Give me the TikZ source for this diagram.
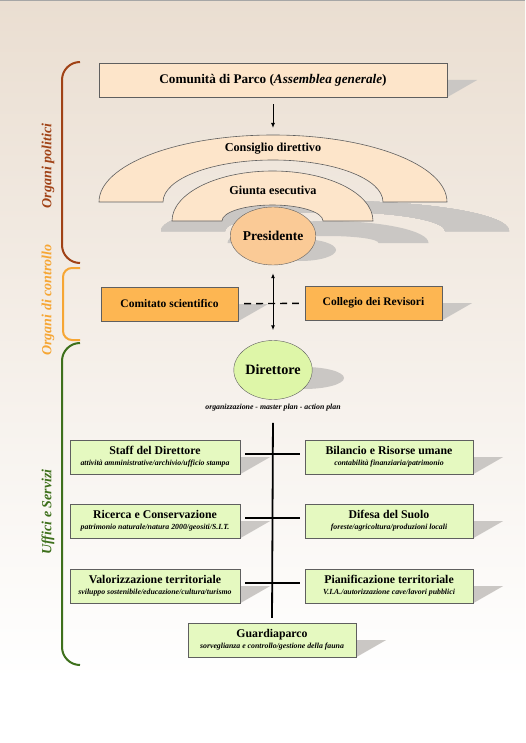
\documentclass[tikz,border=0pt]{standalone}
\usepackage{fontspec}
\setmainfont{Liberation Serif}
\usetikzlibrary{shapes.geometric,calc,arrows.meta,positioning}

\definecolor{paper}{RGB}{234,222,209}
\definecolor{peach}{RGB}{253,229,202}
\definecolor{presfill}{RGB}{250,202,150}
\definecolor{orangebox}{RGB}{253,182,82}
\definecolor{greenbox}{RGB}{229,249,192}
\definecolor{dirfill}{RGB}{222,246,168}
\definecolor{shadowgray}{RGB}{202,199,196}
\definecolor{brownline}{RGB}{160,66,22}
\definecolor{orangeline}{RGB}{246,166,52}
\definecolor{greenline}{RGB}{62,112,28}
\definecolor{edge}{RGB}{95,95,95}

\pgfdeclarelayer{paper}
\pgfdeclarelayer{shade}
\pgfsetlayers{paper,shade,main}

\newcommand{\officenote}[1]{\\[-2pt]{\fontsize{7.8}{9}\selectfont\itshape #1}}
\newcommand{\boxshadow}[1]{\fill[shadowgray] ($(#1.west)+(30,0)$) -- ($(#1.east)+(30,0)$) -- (#1.south east) -- (#1.south west) -- cycle;}

\tikzset{
  topbox/.style={draw=edge, fill=peach, minimum width=348pt, minimum height=34pt, inner sep=0pt,
    font=\fontsize{13.2}{15}\selectfont\bfseries},
  ctrlbox/.style={draw=edge, fill=orangebox, minimum width=137pt, minimum height=34pt, inner sep=0pt,
    font=\fontsize{11.5}{13}\selectfont\bfseries},
  officebox/.style={draw=edge, fill=greenbox, minimum height=34pt, inner sep=0pt, align=center,
    font=\fontsize{11.8}{13}\selectfont\bfseries},
  archfill/.style={draw=edge, fill=peach, line width=0.6pt},
  archlabel/.style={font=\fontsize{12.2}{14}\selectfont\bfseries},
  bracket/.style={line width=2pt, rounded corners=18pt},
  sidelabel/.style={rotate=90, font=\fontsize{14}{16}\selectfont\bfseries\itshape},
  tree/.style={line width=1.8pt},
  tip/.style={line width=1pt, >={Latex[length=5pt,width=4pt]}},
}

\begin{document}
\begin{tikzpicture}[x=1pt, y=-1pt]
  \useasboundingbox (0,0) rectangle (525,743);

  % sfondo
  \begin{pgfonlayer}{paper}
    \shade[top color=paper, bottom color=white] (0,0) rectangle (525,680);
    \fill[white] (0,680) rectangle (525,743);
    \draw[gray!70, line width=1.5pt] (0,0.5) -- (525,0.5);
  \end{pgfonlayer}

  % organi politici
  \node[topbox] (comunita) at (273,80) {Comunità di Parco (\textit{Assemblea generale})};

  \draw[archfill] (99,202) arc[start angle=180, end angle=360, x radius=174, y radius=67]
    -- (383,202) arc[start angle=0, end angle=-180, x radius=110, y radius=42] -- cycle;
  \draw[archfill] (172,221) arc[start angle=180, end angle=360, x radius=100.5, y radius=50]
    -- (323,221) arc[start angle=0, end angle=-180, x radius=50.5, y radius=16] -- cycle;
  \coordinate (archtop) at (273,135);
  \node[archlabel] (consiglio) at (273,149) {Consiglio direttivo};
  \node[archlabel] (giunta) at (273,190) {Giunta esecutiva};

  \node[ellipse, draw=edge, fill=presfill, minimum width=75pt, minimum height=58pt, inner sep=0pt,
    font=\fontsize{13.5}{15}\selectfont\bfseries] (presidente) at (273,236) {Presidente};

  % organi di controllo
  \node[ctrlbox] (comitato) at (169.5,304) {Comitato scientifico};
  \node[ctrlbox] (collegio) at (373.5,303) {Collegio dei Revisori};

  % uffici e servizi
  \node[ellipse, draw=edge, fill=dirfill, minimum width=74pt, minimum height=59pt, inner sep=0pt,
    font=\fontsize{14.2}{16}\selectfont\bfseries] (direttore) at (273,370) {Direttore};
  \node[below=1pt of direttore, font=\fontsize{7.8}{9}\selectfont\bfseries\itshape] (dirnote)
    {organizzazione - master plan - action plan};

  \node[officebox, minimum width=170pt] (staff) at (155,457)
    {Staff del Direttore\officenote{attività amministrative/archivio/ufficio stampa}};
  \node[officebox, minimum width=170pt] (ricerca) at (155,521)
    {Ricerca e Conservazione\officenote{patrimonio naturale/natura 2000/geositi/S.I.T.}};
  \node[officebox, minimum width=170pt] (valorizz) at (155,586)
    {Valorizzazione territoriale\officenote{sviluppo sostenibile/educazione/cultura/turismo}};
  \node[officebox, minimum width=168pt] (bilancio) at (389,457)
    {Bilancio e Risorse umane\officenote{contabilità finanziaria/patrimonio}};
  \node[officebox, minimum width=168pt] (difesa) at (389,521)
    {Difesa del Suolo\officenote{foreste/agricoltura/produzioni locali}};
  \node[officebox, minimum width=168pt] (pianif) at (389,586)
    {Pianificazione territoriale\officenote{V.I.A./autorizzazione cave/lavori pubblici}};
  \node[officebox, minimum width=168pt] (guardia) at (272,640)
    {Guardiaparco\officenote{sorveglianza e controllo/gestione della fauna}};

  % collegamenti
  \draw[tip, ->, shorten <=7pt, shorten >=7pt] (comunita.south) -- (archtop);
  \draw[tip, <->, shorten <=8pt, shorten >=10pt] (presidente.south) -- (direttore.north);
  \draw[line width=1.4pt, dash pattern=on 7pt off 5pt, shorten <=6pt, shorten >=6pt] (comitato) -- (collegio);
  \draw[tree, shorten <=8pt, shorten >=5pt] (dirnote.south) -- (guardia.north);
  \foreach \l/\r in {staff/bilancio, ricerca/difesa, valorizz/pianif}
    \draw[tree, shorten <=5pt, shorten >=5pt] ([yshift=3pt]\l.east) -- ([yshift=3pt]\r.west);

  % ombre
  \begin{pgfonlayer}{shade}
    \foreach \b in {comunita, comitato, collegio, staff, ricerca, valorizz, bilancio, difesa, pianif, guardia}
      \boxshadow{\b}
    \fill[shadowgray] (161,231) arc[start angle=180, end angle=360, x radius=174, y radius=30]
      -- (445,231) arc[start angle=0, end angle=-180, x radius=110, y radius=19] -- cycle;
    \fill[shadowgray] (227.5,243) arc[start angle=180, end angle=360, x radius=100.5, y radius=22]
      -- (378.5,243) arc[start angle=0, end angle=-180, x radius=50.5, y radius=7] -- cycle;
    \fill[shadowgray] (300,250) ellipse[x radius=36, y radius=11];
    \fill[shadowgray] (304,378) ellipse[x radius=40, y radius=11];
  \end{pgfonlayer}

  % parentesi laterali
  \draw[bracket, brownline] (80,62) -- (62,62) -- (62,263) -- (80,263);
  \draw[bracket, orangeline, rounded corners=9pt] (80,268) -- (63,268) -- (63,340) -- (80,340);
  \draw[bracket, greenline] (80,343) -- (62,343) -- (62,665) -- (80,665);
  \node[sidelabel, text=brownline] (politici) at (48,166) {Organi politici};
  \node[sidelabel, text=orangeline] (controllo) at (48,300) {Organi di controllo};
  \node[sidelabel, text=greenline] (uffici) at (48,512) {Uffici e Servizi};
\end{tikzpicture}
\end{document}
